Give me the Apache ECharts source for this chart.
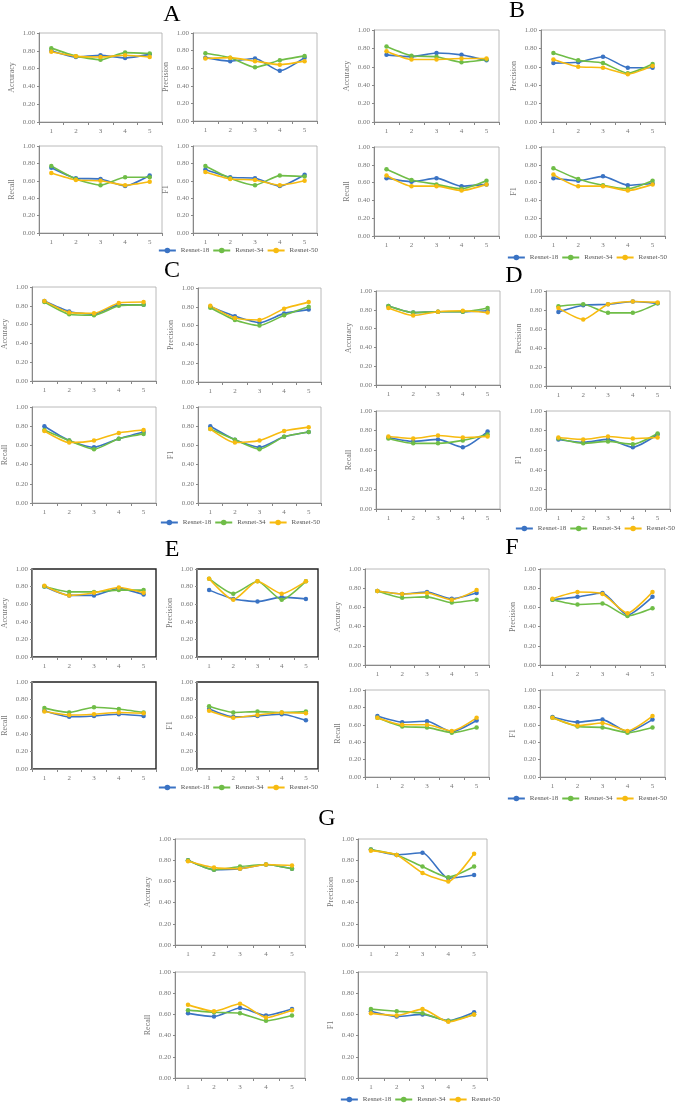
<!DOCTYPE html>
<html><head><meta charset="utf-8">
<script src="https://cdn.jsdelivr.net/npm/echarts@6/dist/echarts.min.js"></script>
<style>html,body{margin:0;padding:0;background:#fff}#c{width:685px;height:1108px}</style>
</head><body><div id="c"></div>
<script>
const categories = ['1','2','3','4','5'];
const seriesNames = ['Resnet-18','Resnet-34','Resnet-50'];
const metricNames = ['Accuracy','Precision','Recall','F1'];
const panelLabels = ['A','B','C','D','E','F','G'];
const yTickLabels = ['0.00','0.20','0.40','0.60','0.80','1.00'];

// each: [Resnet-18, Resnet-34, Resnet-50]
const A_Accuracy  = [[0.80,0.73,0.75,0.72,0.76],[0.83,0.74,0.70,0.78,0.77],[0.79,0.74,0.73,0.75,0.73]];
const A_Precision = [[0.72,0.68,0.71,0.57,0.72],[0.77,0.72,0.61,0.69,0.74],[0.71,0.72,0.68,0.64,0.68]];
const A_Recall    = [[0.75,0.63,0.62,0.54,0.66],[0.77,0.62,0.55,0.64,0.64],[0.69,0.61,0.60,0.55,0.59]];
const A_F1        = [[0.73,0.64,0.63,0.54,0.67],[0.77,0.63,0.55,0.66,0.65],[0.70,0.62,0.61,0.55,0.60]];

const B_Accuracy  = [[0.73,0.71,0.75,0.73,0.67],[0.82,0.72,0.71,0.65,0.68],[0.77,0.68,0.68,0.69,0.69]];
const B_Precision = [[0.64,0.65,0.71,0.59,0.59],[0.75,0.67,0.64,0.53,0.63],[0.68,0.60,0.59,0.52,0.61]];
const B_Recall    = [[0.65,0.61,0.65,0.56,0.58],[0.75,0.63,0.58,0.53,0.62],[0.68,0.56,0.56,0.51,0.58]];
const B_F1        = [[0.65,0.62,0.67,0.57,0.59],[0.76,0.64,0.57,0.53,0.62],[0.69,0.56,0.56,0.51,0.58]];

const C_Accuracy  = [[0.85,0.74,0.71,0.81,0.81],[0.84,0.71,0.70,0.80,0.81],[0.85,0.73,0.72,0.83,0.84]];
const C_Precision = [[0.80,0.70,0.63,0.73,0.77],[0.79,0.66,0.60,0.71,0.80],[0.81,0.68,0.66,0.78,0.85]];
const C_Recall    = [[0.80,0.65,0.58,0.67,0.74],[0.76,0.65,0.56,0.67,0.72],[0.75,0.63,0.65,0.73,0.76]];
const C_F1        = [[0.80,0.66,0.58,0.69,0.74],[0.77,0.66,0.56,0.69,0.74],[0.77,0.63,0.65,0.75,0.79]];

const D_Accuracy  = [[0.84,0.77,0.78,0.78,0.79],[0.84,0.77,0.78,0.78,0.82],[0.82,0.74,0.78,0.79,0.77]];
const D_Precision = [[0.78,0.85,0.86,0.89,0.87],[0.84,0.86,0.77,0.77,0.87],[0.82,0.70,0.86,0.89,0.88]];
const D_Recall    = [[0.73,0.69,0.71,0.63,0.79],[0.72,0.67,0.67,0.70,0.76],[0.74,0.72,0.75,0.73,0.74]];
const D_F1        = [[0.71,0.68,0.71,0.63,0.76],[0.72,0.67,0.69,0.66,0.77],[0.73,0.71,0.74,0.72,0.73]];

const E_Accuracy  = [[0.80,0.70,0.70,0.78,0.71],[0.80,0.74,0.74,0.76,0.76],[0.81,0.70,0.73,0.79,0.73]];
const E_Precision = [[0.76,0.66,0.63,0.68,0.66],[0.89,0.72,0.86,0.65,0.86],[0.89,0.65,0.86,0.72,0.86]];
const E_Recall    = [[0.67,0.60,0.61,0.63,0.61],[0.70,0.65,0.71,0.69,0.65],[0.66,0.62,0.63,0.65,0.64]];
const E_F1        = [[0.69,0.60,0.61,0.63,0.56],[0.72,0.65,0.66,0.65,0.66],[0.67,0.59,0.62,0.65,0.64]];

const F_Accuracy  = [[0.77,0.74,0.76,0.69,0.75],[0.77,0.70,0.71,0.65,0.68],[0.77,0.74,0.75,0.68,0.78]];
const F_Precision = [[0.68,0.71,0.75,0.52,0.71],[0.68,0.63,0.64,0.51,0.59],[0.69,0.76,0.74,0.54,0.76]];
const F_Recall    = [[0.70,0.63,0.64,0.52,0.65],[0.68,0.58,0.57,0.51,0.57],[0.68,0.60,0.60,0.53,0.68]];
const F_F1        = [[0.69,0.63,0.66,0.52,0.66],[0.68,0.58,0.57,0.51,0.57],[0.68,0.59,0.62,0.53,0.70]];

const G_Accuracy  = [[0.80,0.71,0.72,0.76,0.72],[0.80,0.71,0.74,0.76,0.72],[0.79,0.73,0.72,0.76,0.75]];
const G_Precision = [[0.90,0.85,0.87,0.63,0.66],[0.90,0.85,0.74,0.64,0.74],[0.89,0.85,0.68,0.60,0.86]];
const G_Recall    = [[0.61,0.58,0.66,0.59,0.65],[0.64,0.62,0.61,0.54,0.59],[0.69,0.63,0.70,0.57,0.64]];
const G_F1        = [[0.63,0.58,0.60,0.54,0.62],[0.65,0.63,0.61,0.54,0.60],[0.61,0.59,0.65,0.53,0.60]];

const panelData = {
  A:[A_Accuracy,A_Precision,A_Recall,A_F1],
  B:[B_Accuracy,B_Precision,B_Recall,B_F1],
  C:[C_Accuracy,C_Precision,C_Recall,C_F1],
  D:[D_Accuracy,D_Precision,D_Recall,D_F1],
  E:[E_Accuracy,E_Precision,E_Recall,E_F1],
  F:[F_Accuracy,F_Precision,F_Recall,F_F1],
  G:[G_Accuracy,G_Precision,G_Recall,G_F1]
};

// layout: title [x,y], legend [rightEdge,top], grids [l,t,r,b]
const layout = {
  A:{title:[172,15], legend:[318,247], grids:[[39,33,162,122],[193,33,317,121],[39,146,162,233],[193,146,317,233]]},
  B:{title:[517,11], legend:[667,254], grids:[[374,30,499,122],[541,30,665,122],[374,147,499,236],[541,147,665,236]]},
  C:{title:[172,271], legend:[320,519], grids:[[32,287,156,381],[198,288,321,382],[32,407,156,503],[198,407,321,503]]},
  D:{title:[514,276], legend:[675,525], grids:[[376,291,500,385],[546,291,670,386],[376,411,500,509],[546,411,670,509]]},
  E:{title:[172,550], legend:[318,784], grids:[[32,569,156,657],[197,569,318,657],[32,682,156,769],[197,682,318,769]]},
  F:{title:[512,548], legend:[667,795], grids:[[365,569,489,665],[540,569,665,665],[365,690,489,777],[540,690,665,777]]},
  G:{title:[327,819], legend:[500,1096], grids:[[175,839,305,945],[358,839,487,945],[175,972,305,1078],[358,972,487,1078]]}
};

const colors = ['#3a73c4','#6fbd47','#f7bb10'];
const FONT = 'Liberation Serif';
const W = 685;
const grid=[], xAxis=[], yAxis=[], series=[], legend=[], graphic=[];
let gi = 0;
panelLabels.forEach(p => {
  const L = layout[p];
  graphic.push({type:'text', x:L.title[0], y:L.title[1],
    style:{text:p, fontSize:24, fontFamily:FONT, fill:'#000', align:'center', verticalAlign:'middle', textAlign:'center', textVerticalAlign:'middle'}});
  legend.push({data:seriesNames, right:W-L.legend[0], top:L.legend[1], itemWidth:17, itemHeight:7, itemGap:3,
    textStyle:{fontSize:7, fontFamily:FONT, color:'#555'}, padding:0});
  L.grids.forEach((g, m) => {
    const dark = (p==='E');
    grid.push({left:g[0], top:g[1], width:g[2]-g[0], height:g[3]-g[1], show:true,
      borderColor: dark ? '#222' : '#a8a8a8', borderWidth: dark ? 1.4 : 0.8, containLabel:false, outerBoundsMode:'none'});
    xAxis.push({type:'category', gridIndex:gi, data:categories, boundaryGap:true,
      axisLine:{lineStyle:{color:'#888', width:1}}, axisTick:{show:true, length:3, lineStyle:{color:'#888'}},
      axisLabel:{fontSize:7, fontFamily:FONT, color:'#777', margin:6}, splitLine:{show:false}});
    yAxis.push({type:'value', gridIndex:gi, min:0, max:1, interval:0.2,
      name:metricNames[m], nameLocation:'middle', nameGap:23,
      nameTextStyle:{fontSize:8, fontFamily:FONT, color:'#777'},
      axisLine:{show:true, lineStyle:{color:'#888', width:1}}, axisTick:{show:true, length:2, lineStyle:{color:'#888'}},
      axisLabel:{fontSize:7, fontFamily:FONT, color:'#777', margin:4, formatter:v=>yTickLabels[Math.round(v*5)]},
      splitLine:{show:false}});
    panelData[p][m].forEach((vals, s) => {
      series.push({type:'line', name:seriesNames[s], xAxisIndex:gi, yAxisIndex:gi, data:vals,
        symbol:'circle', symbolSize:4.5, smooth:0.2,
        lineStyle:{width:1.6, color:colors[s]}, itemStyle:{color:colors[s]}, animation:false});
    });
    gi++;
  });
});

const chart = echarts.init(document.getElementById('c'), null, {renderer:'canvas'});
chart.setOption({backgroundColor:'#fff', animation:false, color:colors, grid, xAxis, yAxis, series, legend, graphic});
</script></body></html>
